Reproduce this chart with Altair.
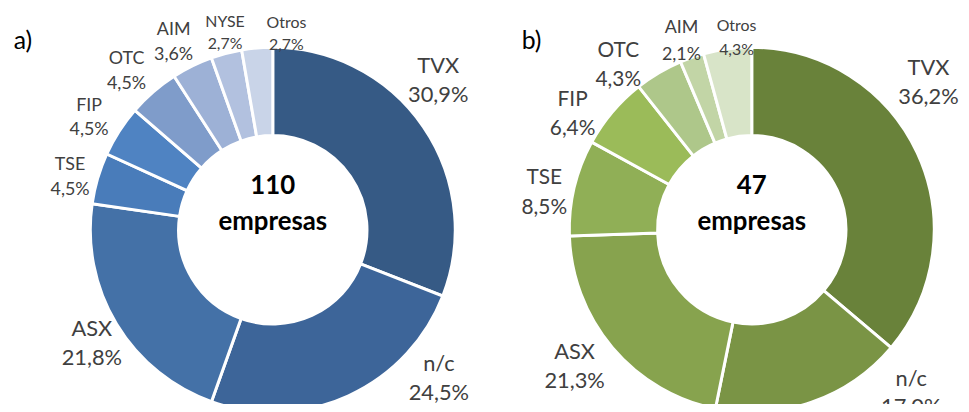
import altair as alt
import pandas as pd

# ---- data ----
cats_a = ["TVX", "n/c", "ASX", "TSE", "FIP", "OTC", "AIM", "NYSE", "Otros"]
counts_a = [34, 27, 24, 5, 5, 5, 4, 3, 3]
total_a = 110

cats_b = ["TVX", "n/c", "ASX", "TSE", "FIP", "OTC", "AIM", "Otros"]
counts_b = [17, 8, 10, 4, 3, 2, 1, 2]
total_b = 47

colors_a = ["#365A85", "#3D6599", "#4471A7", "#497CBA", "#4F83C2",
            "#7F9CCA", "#9DB1D6", "#B2C1DF", "#C9D4E8"]
colors_b = ["#69823A", "#7A9445", "#87A34E", "#90AF56", "#9BBB59",
            "#AEC78A", "#C2D5A6", "#D8E4C8"]

FONT = "Lato"
TXT = "#404040"
R_OUT, R_IN, R_LAB = 184, 95, 213

# label styling per panel: (fontSize, lineHeight)
sizes_a = {"TVX": (22, 29), "n/c": (22, 29), "ASX": (22, 29),
           "TSE": (18, 25), "FIP": (18, 25), "OTC": (18, 25), "AIM": (18, 25),
           "NYSE": (16, 22), "Otros": (16, 22)}
sizes_b = {"TVX": (22, 29), "n/c": (22, 29), "ASX": (22, 29),
           "TSE": (21, 30), "FIP": (21, 29), "OTC": (21, 29), "AIM": (18, 27),
           "Otros": (16, 24)}
# label nudges (dx, dy) relative to radial placement
nudge_a = {"TVX": (-9, -45), "n/c": (79, -58), "ASX": (0, -10), "TSE": (0, -5),
           "FIP": (-6, -10), "OTC": (-8, -11), "AIM": (-6, -10),
           "NYSE": (6, -3), "Otros": (32, 4)}
nudge_b = {"TVX": (-15, -73), "n/c": (91, -51), "ASX": (-16, -14), "TSE": (-2, -3),
           "FIP": (-18, 7), "OTC": (-26, 3), "AIM": (-1, -2), "Otros": (13, 6)}


def donut(cats, counts, total, colors, cx, cy, sizes, nudges, tag, tag_x):
    df = pd.DataFrame({"cat": cats, "n": counts, "idx": list(range(len(cats)))})
    df["label"] = [f"{c}\n" + f"{n / total * 100:.1f}".replace(".", ",") + "%"
                   for c, n in zip(cats, counts)]
    base = alt.Chart(df).encode(
        theta=alt.Theta("n:Q", stack=True),
        order=alt.Order("idx:Q"),
        x=alt.value(cx),
        y=alt.value(cy),
    )
    arcs = base.mark_arc(innerRadius=R_IN, outerRadius=R_OUT,
                         stroke="white", strokeWidth=3).encode(
        color=alt.Color("cat:N", scale=alt.Scale(domain=cats, range=colors),
                        legend=None)
    )
    layers = [arcs]
    for c in cats:
        fs, lh = sizes[c]
        dx, dy = nudges.get(c, (0, 0))
        layers.append(
            base.mark_text(radius=R_LAB, font=FONT, fontSize=fs, lineHeight=lh,
                           color=TXT, lineBreak="\n", align="center",
                           baseline="middle", dx=dx, dy=dy).encode(
                text=alt.condition(alt.datum.cat == c, alt.Text("label:N"),
                                   alt.value(""))
            )
        )
    center = alt.Chart(pd.DataFrame({"t": [f"{total}\nempresas"]})).mark_text(
        font=FONT, fontSize=26, fontWeight="bold", color="black",
        lineBreak="\n", lineHeight=36, align="center", baseline="middle"
    ).encode(text="t:N", x=alt.value(cx), y=alt.value(cy - 44))
    tagc = alt.Chart(pd.DataFrame({"t": [tag]})).mark_text(
        font=FONT, fontSize=25, color="black", align="center", baseline="middle"
    ).encode(text="t:N", x=alt.value(tag_x), y=alt.value(32))
    layers += [center, tagc]
    return alt.layer(*layers)


left = donut(cats_a, counts_a, total_a, colors_a, 267, 222, sizes_a, nudge_a, "a)", 15)
right = donut(cats_b, counts_b, total_b, colors_b, 750, 222, sizes_b, nudge_b, "b)", 528)

chart = alt.layer(left, right).resolve_scale(
    color="independent", theta="independent"
).properties(
    width=961, height=396, padding=0,
    autosize=alt.AutoSizeParams(type="none")
).configure_view(stroke=None)

chart.save("out.html", embed_options={"renderer": "svg", "actions": False})
